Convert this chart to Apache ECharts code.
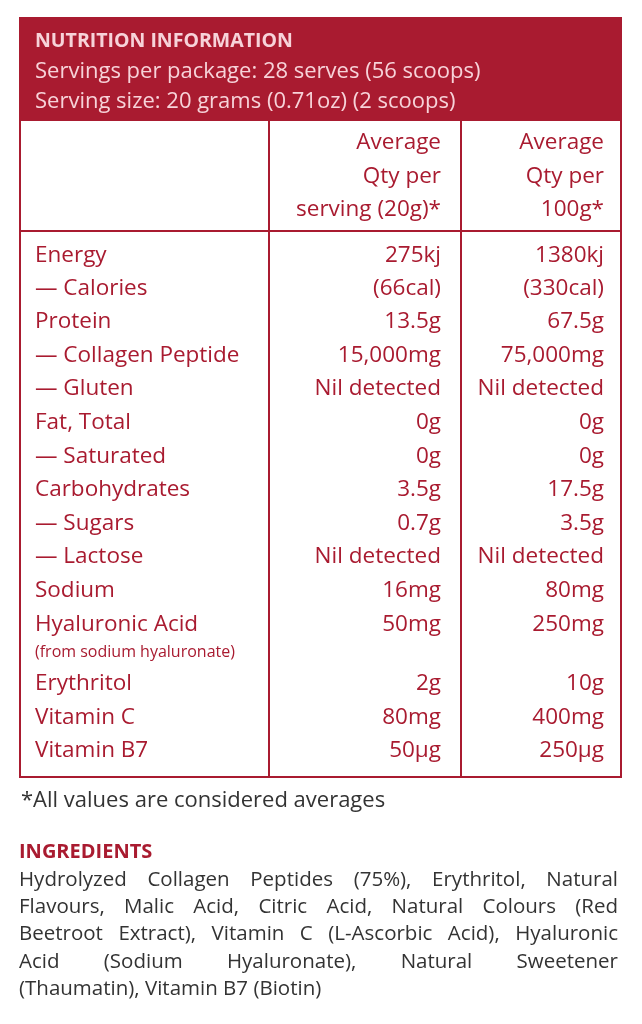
<!DOCTYPE html><html><head><meta charset="utf-8">
<script src="https://cdn.jsdelivr.net/npm/echarts@6/dist/echarts.min.js"></script>
<style>html,body{margin:0;padding:0;background:#fff}#c{width:642px;height:1024px}</style></head><body><div id="c"></div>
<script>
const title = 'NUTRITION INFORMATION';
const headerLines = ['Servings per package: 28 serves (56 scoops)', 'Serving size: 20 grams (0.71oz) (2 scoops)'];
const colHeads1 = ['Average', 'Qty per', 'serving (20g)*'];
const colHeads2 = ['Average', 'Qty per', '100g*'];
const nutrients = ['Energy','— Calories','Protein','— Collagen Peptide','— Gluten','Fat, Total','— Saturated','Carbohydrates','— Sugars','— Lactose','Sodium','Hyaluronic Acid','Erythritol','Vitamin C','Vitamin B7'];
const perServing = ['275kj','(66cal)','13.5g','15,000mg','Nil detected','0g','0g','3.5g','0.7g','Nil detected','16mg','50mg','2g','80mg','50µg'];
const per100g = ['1380kj','(330cal)','67.5g','75,000mg','Nil detected','0g','0g','17.5g','3.5g','Nil detected','80mg','250mg','10g','400mg','250µg'];
const rowY = [256,289,322,356,389,423,457,490,524,557,591,625,684,718,751];
const subNote = '(from sodium hyaluronate)';
const footnote = '*All values are considered averages';
const ingTitle = 'INGREDIENTS';
const ingLines = ['Hydrolyzed Collagen Peptides (75%), Erythritol, Natural','Flavours, Malic Acid, Citric Acid, Natural Colours (Red','Beetroot Extract), Vitamin C (L-Ascorbic Acid), Hyaluronic','Acid (Sodium Hyaluronate), Natural Sweetener','(Thaumatin), Vitamin B7 (Biotin)'];

const RED = '#A91B30', PINK = '#F7D3D9', FONT = '"Open Sans", "Noto Sans", sans-serif';
const BODY = '22.5px ' + FONT, ING = '20.5px ' + FONT;
const g = [];
function t(x,y,text,opt){g.push({type:'text',x:x,y:y,style:Object.assign({text:text,fill:RED,font:BODY,textAlign:'left',textVerticalAlign:'middle'},opt||{})});}
function line(x1,y1,x2,y2,w){g.push({type:'line',shape:{x1,y1,x2,y2},style:{stroke:RED,lineWidth:w||2}});}
g.push({type:'rect',shape:{x:19,y:17,width:603,height:104},style:{fill:RED}});
g.push({type:'rect',shape:{x:20,y:120,width:601,height:657},style:{fill:'none',stroke:RED,lineWidth:2}});
line(269,120,269,777); line(461,120,461,777); line(20,231,621,231,2);
t(35,41,title,{fill:PINK,font:'bold 19.5px '+FONT});
headerLines.forEach((s,i)=>t(35,72+i*30,s,{fill:PINK,font:'22px '+FONT}));
colHeads1.forEach((s,i)=>t(441,143+i*33.5,s,{textAlign:'right'}));
colHeads2.forEach((s,i)=>t(604,143+i*33.5,s,{textAlign:'right'}));
nutrients.forEach((s,i)=>{t(35,rowY[i],s);t(441,rowY[i],perServing[i],{textAlign:'right'});t(604,rowY[i],per100g[i],{textAlign:'right'});});
t(35,652,subNote,{font:'16px '+FONT});
t(21,801,footnote,{fill:'#333',font:'22px '+FONT});
t(19,852,ingTitle,{font:'bold 20px '+FONT});
// justified ingredient lines (last line left-aligned)
const ctx = document.createElement('canvas').getContext('2d'); ctx.font = ING;
const L = 19, R = 618;
ingLines.forEach((s,i)=>{
  const y = 880 + i*27.3;
  if (i === ingLines.length-1) { t(L,y,s,{fill:'#333',font:ING}); return; }
  const words = s.split(' ');
  const tot = words.reduce((a,w)=>a+ctx.measureText(w).width,0);
  const gap = (R-L-tot)/(words.length-1);
  let x = L;
  words.forEach(w=>{ t(x,y,w,{fill:'#333',font:ING}); x += ctx.measureText(w).width + gap; });
});
const chart = echarts.init(document.getElementById('c'));
chart.setOption({animation:false,graphic:{elements:g}});
</script></body></html>
